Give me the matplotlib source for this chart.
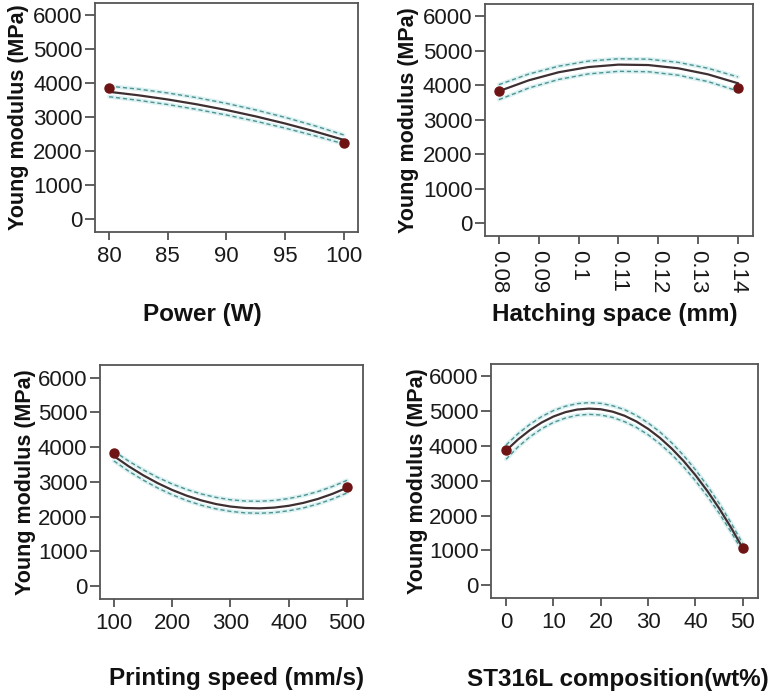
import matplotlib
matplotlib.use("Agg")
import matplotlib.pyplot as plt

plt.rcParams['font.family'] = ['Liberation Sans', 'DejaVu Sans']

# ---- Panel 1: Power (W)
power_x = [80, 82.5, 85, 87.5, 90, 92.5, 95, 97.5, 100]
power_fit = [3751, 3649, 3526, 3382, 3216, 3029, 2820, 2590, 2339]
power_up = [3918, 3830, 3717, 3577, 3411, 3219, 3000, 2756, 2485]
power_lo = [3606, 3501, 3377, 3233, 3070, 2887, 2685, 2463, 2222]
power_pts_x = [80, 100]
power_pts_y = [3851, 2242]
power_ticks = [80, 85, 90, 95, 100]
power_ticklabels = ['80', '85', '90', '95', '100']

# ---- Panel 2: Hatching space (mm)
hatch_x = [0.08, 0.0875, 0.095, 0.1025, 0.11, 0.1175, 0.125, 0.1325, 0.14]
hatch_fit = [3830, 4145, 4379, 4530, 4600, 4588, 4494, 4318, 4060]
hatch_up = [4020, 4327, 4555, 4702, 4770, 4758, 4666, 4494, 4243]
hatch_lo = [3585, 3921, 4170, 4331, 4406, 4394, 4294, 4108, 3835]
hatch_pts_x = [0.08, 0.14]
hatch_pts_y = [3835, 3933]
hatch_ticks = [0.08, 0.09, 0.10, 0.11, 0.12, 0.13, 0.14]
hatch_ticklabels = ['0.08', '0.09', '0.1', '0.11', '0.12', '0.13', '0.14']

# ---- Panel 3: Printing speed (mm/s)
speed_x = [100, 125, 150, 175, 200, 225, 250, 275, 300,
           325, 350, 375, 400, 425, 450, 475, 500]
speed_fit = [3740, 3450, 3191, 2963, 2766, 2601, 2466, 2362, 2290,
             2249, 2238, 2259, 2311, 2394, 2508, 2654, 2830]
speed_up = [3880, 3599, 3348, 3128, 2938, 2779, 2651, 2553, 2485,
            2448, 2441, 2465, 2520, 2605, 2720, 2866, 3043]
speed_lo = [3600, 3310, 3052, 2824, 2628, 2462, 2327, 2223, 2150,
            2108, 2097, 2117, 2168, 2249, 2362, 2505, 2680]
speed_pts_x = [100, 500]
speed_pts_y = [3835, 2841]
speed_ticks = [100, 200, 300, 400, 500]
speed_ticklabels = ['100', '200', '300', '400', '500']

# ---- Panel 4: ST316L composition (wt%)
comp_x = [0, 2.5, 5, 7.5, 10, 12.5, 15, 17.5, 20, 22.5, 25,
          27.5, 30, 32.5, 35, 37.5, 40, 42.5, 45, 47.5, 50]
comp_fit = [3871, 4187, 4456, 4676, 4849, 4973, 5049, 5077, 5057, 4988, 4872,
            4707, 4494, 4234, 3925, 3568, 3162, 2709, 2208, 1658, 1060]
comp_up = [4031, 4352, 4621, 4846, 5019, 5143, 5219, 5247, 5227, 5158, 5047,
           4882, 4664, 4404, 4090, 3728, 3317, 2859, 2353, 1793, 1190]
comp_lo = [3621, 3972, 4261, 4496, 4679, 4803, 4884, 4912, 4892, 4823, 4702,
           4537, 4324, 4064, 3755, 3403, 3002, 2559, 2068, 1533, 950]
comp_pts_x = [0, 50]
comp_pts_y = [3875, 1067]
comp_ticks = [0, 10, 20, 30, 40, 50]
comp_ticklabels = ['0', '10', '20', '30', '40', '50']

y_ticks = [0, 1000, 2000, 3000, 4000, 5000, 6000]
y_ticklabels = ['0', '1000', '2000', '3000', '4000', '5000', '6000']
y_label = 'Young modulus (MPa)'

panels = [
    dict(x=power_x, fit=power_fit, up=power_up, lo=power_lo,
         px=power_pts_x, py=power_pts_y, ticks=power_ticks, tl=power_ticklabels,
         xlabel='Power (W)', pos=[0.1226, 0.6652, 0.339, 0.3304],
         xlim=(78.8, 101.2), rot=0, ylc=-0.293, xlc=(0.407, -0.362)),
    dict(x=hatch_x, fit=hatch_fit, up=hatch_up, lo=hatch_lo,
         px=hatch_pts_x, py=hatch_pts_y, ticks=hatch_ticks, tl=hatch_ticklabels,
         xlabel='Hatching space (mm)', pos=[0.6258, 0.6595, 0.3458, 0.3348],
         xlim=(0.0765, 0.1438), rot=270, ylc=-0.287, xlc=(0.485, -0.34)),
    dict(x=speed_x, fit=speed_fit, up=speed_up, lo=speed_lo,
         px=speed_pts_x, py=speed_pts_y, ticks=speed_ticks, tl=speed_ticklabels,
         xlabel='Printing speed (mm/s)', pos=[0.129, 0.1356, 0.3394, 0.3377],
         xlim=(76, 527.5), rot=0, ylc=-0.285, xlc=(0.52, -0.338)),
    dict(x=comp_x, fit=comp_fit, up=comp_up, lo=comp_lo,
         px=comp_pts_x, py=comp_pts_y, ticks=comp_ticks, tl=comp_ticklabels,
         xlabel='ST316L composition(wt%)', pos=[0.6335, 0.1371, 0.3445, 0.3377],
         xlim=(-3.2, 53.2), rot=0, ylc=-0.277, xlc=(0.474, -0.35)),
]

fig = plt.figure(figsize=(7.75, 6.93), dpi=100)
fig.patch.set_facecolor('white')

for p in panels:
    ax = fig.add_axes(p['pos'])
    for band in (p['up'], p['lo']):
        ax.plot(p['x'], band, color='#dcf1f1', lw=3.0, solid_capstyle='round', zorder=2)
        ax.plot(p['x'], band, color='#4f9393', lw=1.0, ls=(0, (3, 2)), zorder=3)
    ax.plot(p['x'], p['fit'], color='#3e2f33', lw=1.6, zorder=4)
    ax.plot(p['px'], p['py'], 'o', color='#6e1414', ms=6.5, zorder=5)

    ax.set_xlim(*p['xlim'])
    ax.set_ylim(-370, 6360)
    ax.set_xticks(p['ticks'])
    ax.set_xticklabels(p['tl'], rotation=p['rot'], fontsize=16, color='#1a1a1a',
                       va='top', ha='center')
    ax.set_yticks(y_ticks)
    ax.set_yticklabels(y_ticklabels, fontsize=16, color='#1a1a1a')
    ax.tick_params(axis='x', length=6, width=1.2, color='#444444', pad=4)
    ax.tick_params(axis='y', length=7, width=1.2, color='#444444', pad=2)
    for s in ax.spines.values():
        s.set_color('#555555')
        s.set_linewidth(1.3)
    ax.set_ylabel(y_label, fontsize=15.5, fontweight='bold', color='#111111')
    ax.yaxis.label.set_va('center')
    ax.yaxis.set_label_coords(p['ylc'], 0.5)
    ax.set_xlabel(p['xlabel'], fontsize=17.5, fontweight='bold', color='#111111')
    ax.xaxis.set_label_coords(p['xlc'][0], p['xlc'][1])
    ax.xaxis.label.set_va('center')

fig.savefig('out.png', dpi=100, facecolor='white')
